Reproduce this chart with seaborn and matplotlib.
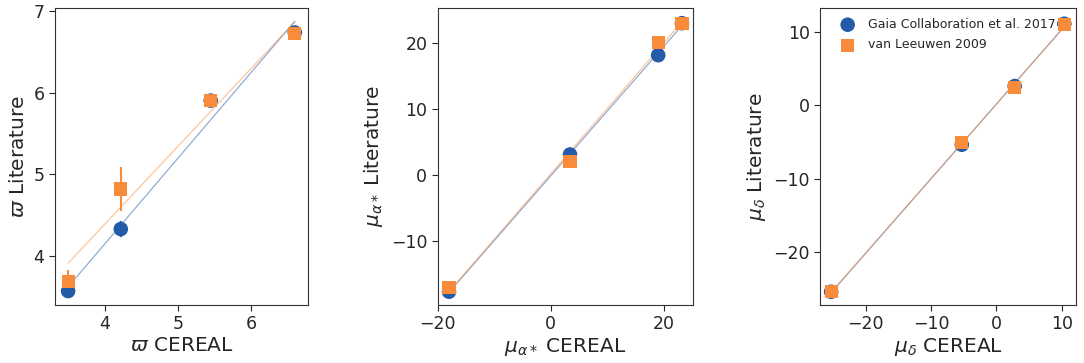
import numpy as np
import pandas as pd
import matplotlib
matplotlib.use("Agg")
import matplotlib.pyplot as plt
import seaborn as sns

sns.set_style("ticks")
plt.rcParams['font.family'] = ['DejaVu Sans']
plt.rcParams['mathtext.fontset'] = 'dejavusans'

labels = ["Gaia Collaboration et al. 2017", "van Leeuwen 2009"]
colors = ["#245ba8", "#f98c3a"]
markers = ["o", "s"]

# parallax
plx_cereal = [3.50, 4.22, 5.45, 6.60]
plx_gaia = [3.57, 4.33, 5.905, 6.74]
plx_gaia_err = [0.02, 0.10, 0.03, 0.03]
plx_hip = [3.69, 4.82, 5.91, 6.73]
plx_hip_err = [0.14, 0.27, 0.05, 0.08]

# proper motion RA
pmra_cereal = [-18.0, 3.4, 19.0, 23.2]
pmra_gaia = [-17.7, 3.1, 18.15, 23.0]
pmra_hip = [-17.05, 2.0, 20.1, 23.0]

# proper motion Dec
pmdec_cereal = [-25.3, -5.3, 2.8, 10.4]
pmdec_gaia = [-25.4, -5.35, 2.65, 11.15]
pmdec_hip = [-25.4, -5.0, 2.45, 11.1]

fig = plt.figure(figsize=(10.84, 3.63), dpi=100)
axes = [fig.add_axes([0.0507, 0.160, 0.2334, 0.818]),
        fig.add_axes([0.4038, 0.160, 0.2352, 0.818]),
        fig.add_axes([0.7565, 0.160, 0.2362, 0.818])]

panels = [
    (plx_cereal, [plx_gaia, plx_hip], [plx_gaia_err, plx_hip_err],
     r'$\varpi$ CEREAL', r'$\varpi$ Literature', (3.32, 6.78), (3.40, 7.04), [4, 5, 6], [4, 5, 6, 7]),
    (pmra_cereal, [pmra_gaia, pmra_hip], [None, None],
     r'$\mu_{\alpha*}$ CEREAL', r'$\mu_{\alpha*}$ Literature', (-20.0, 25.1), (-19.7, 25.3), [-20, 0, 20], [-10, 0, 10, 20]),
    (pmdec_cereal, [pmdec_gaia, pmdec_hip], [None, None],
     r'$\mu_{\delta}$ CEREAL', r'$\mu_{\delta}$ Literature', (-27.0, 12.2), (-27.2, 13.3), [-20, -10, 0, 10], [-20, -10, 0, 10]),
]

for ax, (xc, ys, errs, xl, yl, xlim, ylim, xt, yt) in zip(axes, panels):
    for i in range(2):
        df = pd.DataFrame({"x": xc, "y": ys[i]})
        sns.regplot(data=df, x="x", y="y", ax=ax, scatter=False, ci=None,
                    color=colors[i], line_kws=dict(lw=0.9, alpha=0.5))
    for i in range(2):
        if errs[i] is not None:
            ax.errorbar(xc, ys[i], yerr=errs[i], fmt='none', ecolor=colors[i], elinewidth=1.5, zorder=3)
        df = pd.DataFrame({"x": xc, "y": ys[i]})
        sns.scatterplot(data=df, x="x", y="y", ax=ax, color=colors[i], marker=markers[i],
                        s=110 if i == 0 else 90, edgecolor='none', label=labels[i], zorder=4 + i)
    ax.set_xlim(*xlim)
    ax.set_ylim(*ylim)
    ax.set_xticks(xt)
    ax.set_yticks(yt)
    ax.set_xlabel(xl, fontsize=14.5, labelpad=2)
    ax.set_ylabel(yl, fontsize=14.5, labelpad=4)
    ax.tick_params(labelsize=12.5, direction='out', length=4)
    for sp in ax.spines.values():
        sp.set_visible(True)
        sp.set_color('#333333')
    if ax is not axes[2]:
        ax.get_legend().remove()

axes[2].legend(loc='upper left', frameon=False, fontsize=9, bbox_to_anchor=(0.02, 1.0),
               handletextpad=0.6, borderaxespad=0.4, labelspacing=0.6)

fig.savefig("out.png", dpi=100)
